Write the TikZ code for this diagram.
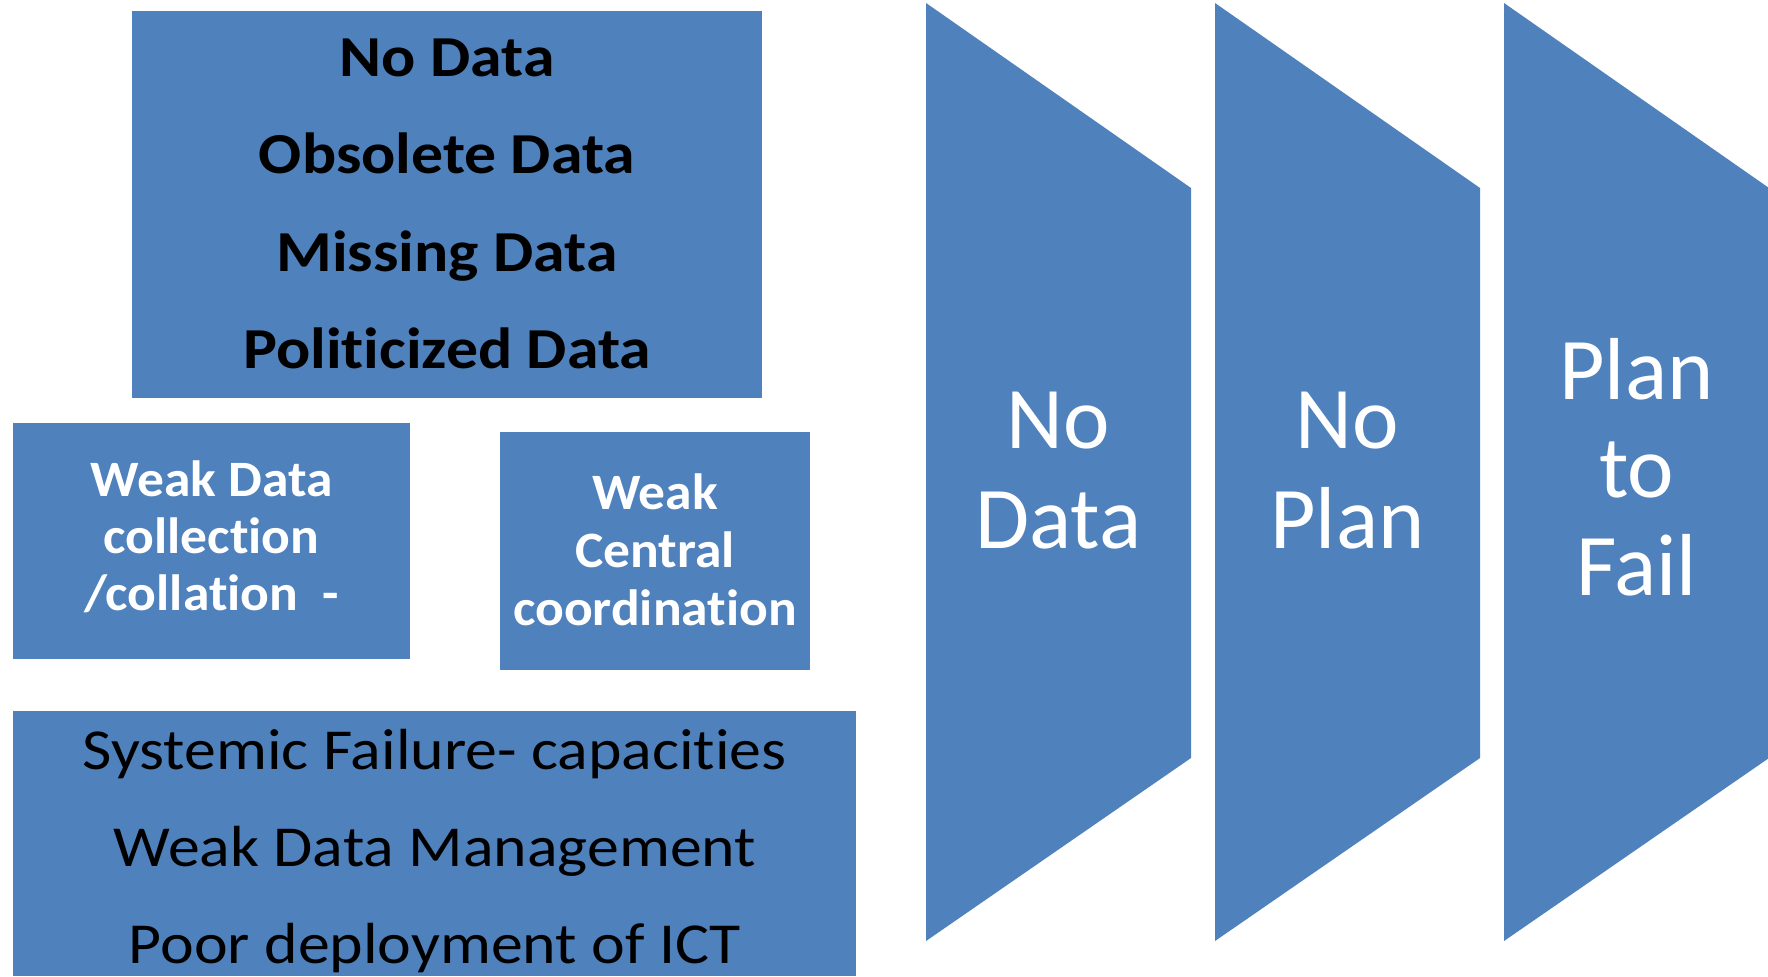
\documentclass[tikz,border=0pt]{standalone}
\usepackage{fontspec}
\setmainfont[Ligatures={NoCommon}]{Carlito}
\newfontfamily\widefont[FakeStretch=1.1,Ligatures={NoCommon}]{Carlito}
\newfontfamily\semiwidefont[FakeStretch=1.05,Ligatures={NoCommon}]{Carlito}
\definecolor{officeblue}{HTML}{4F81BD}
\begin{document}
\begin{tikzpicture}[x=0.5pt,y=-0.5pt,
  blk/.style={fill=officeblue,draw=none,inner sep=0pt,outer sep=0pt},
  topline/.style={anchor=base,inner sep=0pt,font=\widefont\fontsize{29}{34}\selectfont\bfseries,text=black},
  weakline/.style={anchor=base,inner sep=0pt,font=\semiwidefont\fontsize{25.5}{30}\selectfont\bfseries,text=white},
  botline/.style={anchor=base,inner sep=0pt,font=\widefont\fontsize{29}{34}\selectfont,text=black},
  chevline/.style={anchor=base,inner sep=0pt,font=\fontsize{44}{50}\selectfont,text=white}]
\useasboundingbox[fill=white] (0,0) rectangle (1768,976);
% boxes
\node[blk,minimum width=315pt,minimum height=193.5pt] (top) at (447,204.5) {};
\node[blk,minimum width=198.5pt,minimum height=118pt] (wdc) at (211.5,541) {};
\node[blk,minimum width=155pt,minimum height=119pt] (wcc) at (655,551) {};
\node[blk,minimum width=421.5pt,minimum height=132.5pt] (bot) at (434.75,843.5) {};
% chevrons
\fill[officeblue] (926,3) -- (1191,188) -- (1191,758) -- (926,941) -- cycle;
\fill[officeblue] (1215,3) -- (1480,188) -- (1480,758) -- (1215,941) -- cycle;
\fill[officeblue] (1504,3) -- (1769,188) -- (1769,758) -- (1504,941) -- cycle;
% top box text
\node[topline] (t1) at (447,76.5) {No Data};
\node[topline] (t2) at (447,173.8) {Obsolete Data};
\node[topline] (t3) at (447,271.1) {Missing Data};
\node[topline] (t4) at (447,368.4) {Politicized Data};
% weak data collection
\node[weakline] (w1) at (211.5,496.7) {Weak Data};
\node[weakline] (w2) at (211.5,553.5) {collection};
\node[weakline] (w3) at (211.5,610.3) {/collation\ \ -};
% weak central coordination
\node[weakline] (c1) at (655,509.7) {Weak};
\node[weakline] (c2) at (655,567.5) {Central};
\node[weakline] (c3) at (655,625.3) {coordination};
% bottom box text
\node[botline] (b1) at (434.75,769) {Systemic Failure- capacities};
\node[botline] (b2) at (434.75,866) {Weak Data Management};
\node[botline] (b3) at (434.75,963) {Poor deployment of ICT};
% chevron text
\node[chevline] (n1) at (1058.5,448) {No};
\node[chevline] (n2) at (1058.5,548) {Data};
\node[chevline] (p1) at (1347.5,448) {No};
\node[chevline] (p2) at (1347.5,548) {Plan};
\node[chevline] (f1) at (1636.5,399) {Plan};
\node[chevline] (f2) at (1636.5,497) {to};
\node[chevline] (f3) at (1636.5,595) {Fail};
\end{tikzpicture}
\end{document}
